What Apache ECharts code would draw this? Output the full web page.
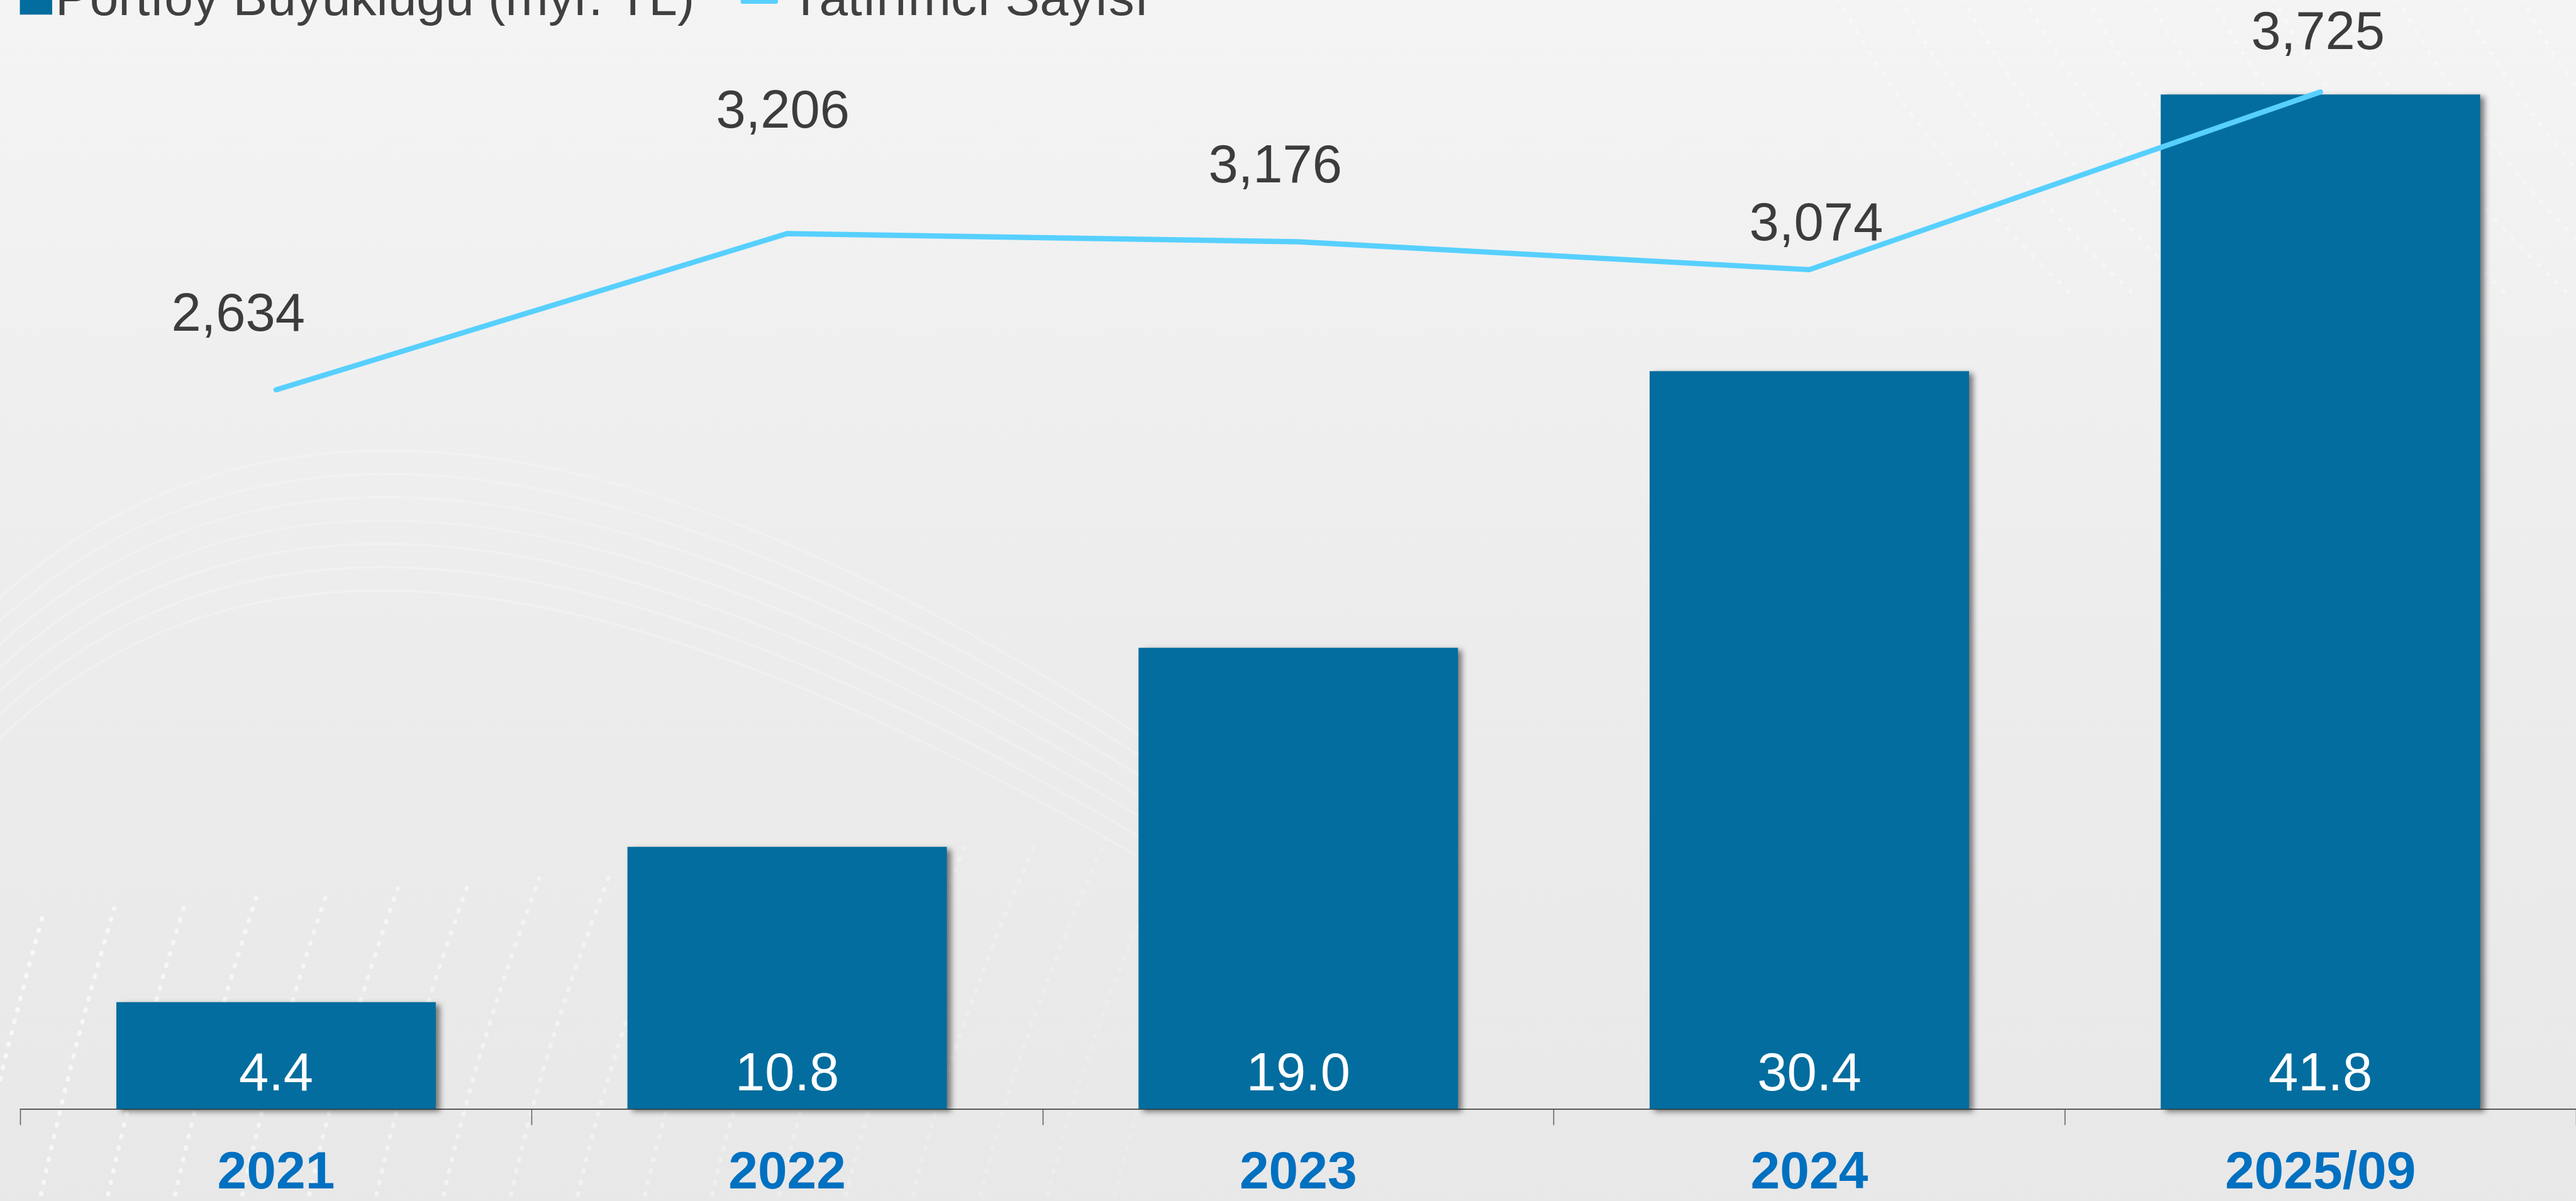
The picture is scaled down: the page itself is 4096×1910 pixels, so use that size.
<!DOCTYPE html>
<html lang="tr">
<head>
<meta charset="utf-8">
<title>Portföy Büyüklüğü ve Yatırımcı Sayısı</title>
<script src="https://cdn.jsdelivr.net/npm/echarts@6/dist/echarts.min.js"></script>
<style>
  html, body { margin: 0; padding: 0; width: 100%; height: 100%; overflow: hidden; }
  #chart { width: 4096px; height: 1910px; }
</style>
</head>
<body>
<div id="chart"></div>
<script>
// Yıllar
const categories = ['2021', '2022', '2023', '2024', '2025/09'];
// Portföy büyüklüğü (milyar TL)
const portfolioValues = [4.4, 10.8, 19.0, 30.4, 41.8];
// Yatırımcı sayısı
const investorValues = [2634, 3206, 3176, 3074, 3725];

const seriesNames = ['Portföy Büyüklüğü (myr. TL)', 'Yatırımcı Sayısı'];

// Drawing scale
const k = 0.988;
const FONT = '"Liberation Sans", Arial, Helvetica, sans-serif';
const BAR_COLOR = '#026D9E';
const LINE_COLOR = '#57D0FE';
const TEXT_COLOR = '#3C3C3C';

// Hand-placed offsets for the investor labels, relative to each point
const investorLabelShift = [[-61, -119], [-7, -194], [-37, -119], [11, -71.5], [-4, -92.5]];

// Soft decorative backdrop: a faint ribbon of white curves and dotted strands
function backdrop() {
  const els = [];
  // ribbon arcing over the left half
  for (let i = 0; i < 7; i++) {
    els.push({
      type: 'bezierCurve',
      silent: true,
      shape: {
        x1: -60 * k, y1: (1020 + i * 38) * k,
        cpx1: 380 * k, cpy1: (560 + i * 34) * k,
        cpx2: 1050 * k, cpy2: (620 + i * 44) * k,
        x2: 2050 * k, y2: (1330 + i * 30) * k
      },
      style: { stroke: 'rgba(255,255,255,0.22)', lineWidth: 4 * k, fill: null }
    });
  }
  // dotted strands rising from the bottom-left corner
  for (let j = 0; j < 18; j++) {
    const x0 = j * 108;
    const a = Math.max(0.12, 0.65 - j * 0.03);
    els.push({
      type: 'bezierCurve',
      silent: true,
      shape: {
        x1: (x0 - 50) * k, y1: 1960 * k,
        cpx1: (x0 + 5) * k, cpy1: 1700 * k,
        x2: (x0 + 70 + j * 6) * k, y2: (1470 - j * 8) * k
      },
      style: {
        stroke: 'rgba(255,255,255,' + a.toFixed(2) + ')',
        lineWidth: 7 * k, lineCap: 'round', lineDash: [2 * k, 17 * k], fill: null
      }
    });
  }
  // dotted strands in the upper-right corner
  for (let j = 0; j < 12; j++) {
    const x0 = 2950 + j * 100;
    els.push({
      type: 'bezierCurve',
      silent: true,
      shape: {
        x1: x0 * k, y1: -20 * k,
        cpx1: (x0 + 120) * k, cpy1: 220 * k,
        x2: (x0 + 380) * k, y2: 470 * k
      },
      style: {
        stroke: 'rgba(255,255,255,0.35)',
        lineWidth: 6 * k, lineCap: 'round', lineDash: [2 * k, 18 * k], fill: null
      }
    });
  }
  return els;
}

const chart = echarts.init(document.getElementById('chart'), null, { renderer: 'canvas' });

const option = {
  backgroundColor: {
    type: 'linear', x: 0, y: 0, x2: 0, y2: 1,
    colorStops: [
      { offset: 0, color: '#F4F4F4' },
      { offset: 0.55, color: '#ECECEC' },
      { offset: 1, color: '#E8E8E8' }
    ]
  },
  animation: false,
  graphic: { elements: [{ type: 'group', silent: true, z: -10, children: backdrop() }] },
  legend: [
    {
      data: [seriesNames[0]],
      left: 32 * k,
      top: -40.5 * k,
      padding: 0,
      itemWidth: 52 * k,
      itemHeight: 45 * k,
      icon: 'rect',
      textStyle: { fontFamily: FONT, fontSize: 83 * k, color: '#404040', lineHeight: 45 * k }
    },
    {
      data: [{ name: seriesNames[1], icon: 'roundRect' }],
      left: 1192 * k,
      top: -40.5 * k,
      padding: 0,
      itemWidth: 60 * k,
      itemHeight: 10 * k,
      textStyle: { fontFamily: FONT, fontSize: 83 * k, color: '#404040', lineHeight: 45 * k, padding: [0, 0, 0, 12 * k] }
    }
  ],
  grid: {
    left: 33 * k,
    top: 27.1 * k,
    width: 4117.5 * k,
    height: 1757.9 * k,
    containLabel: false
  },
  xAxis: {
    type: 'category',
    data: categories,
    boundaryGap: true,
    axisLine: { show: true, lineStyle: { color: '#5A5A5A', width: 2 * k } },
    axisTick: { show: true, length: 26 * k, lineStyle: { color: '#5A5A5A', width: 1.5 * k } },
    axisLabel: {
      margin: 104.5 * k,
      verticalAlign: 'middle',
      fontFamily: FONT,
      fontWeight: 'bold',
      fontSize: 85 * k,
      color: '#0070C0'
    },
    splitLine: { show: false }
  },
  yAxis: [
    { type: 'value', min: 0, max: 45, show: false, splitLine: { show: false } },
    { type: 'value', min: 0, max: 4000, show: false, splitLine: { show: false } }
  ],
  series: [
    {
      name: seriesNames[0],
      type: 'bar',
      yAxisIndex: 0,
      barWidth: '62.5%',
      data: portfolioValues,
      itemStyle: {
        color: BAR_COLOR,
        shadowColor: 'rgba(0,0,0,0.5)',
        shadowBlur: 9 * k,
        shadowOffsetX: 7 * k,
        shadowOffsetY: 4 * k
      },
      label: {
        show: true,
        position: ['50%', '100%'],
        offset: [0, -54 * k],
        align: 'center',
        verticalAlign: 'middle',
        fontFamily: FONT,
        fontSize: 86 * k,
        color: '#FFFFFF',
        formatter: p => p.value.toFixed(1)
      },
      z: 2
    },
    {
      name: seriesNames[1],
      type: 'line',
      yAxisIndex: 1,
      data: investorValues.map((v, i) => ({
        value: v,
        label: { offset: [investorLabelShift[i][0] * k, investorLabelShift[i][1] * k] }
      })),
      symbol: 'circle',
      symbolSize: 1,
      showSymbol: true,
      itemStyle: { color: LINE_COLOR },
      lineStyle: { color: LINE_COLOR, width: 8.5 * k, cap: 'round', join: 'round' },
      label: {
        show: true,
        position: 'inside',
        align: 'center',
        verticalAlign: 'middle',
        fontFamily: FONT,
        fontSize: 86 * k,
        color: TEXT_COLOR,
        formatter: p => p.value.toLocaleString('en-US')
      },
      z: 3
    }
  ]
};

chart.setOption(option);
</script>
</body>
</html>
